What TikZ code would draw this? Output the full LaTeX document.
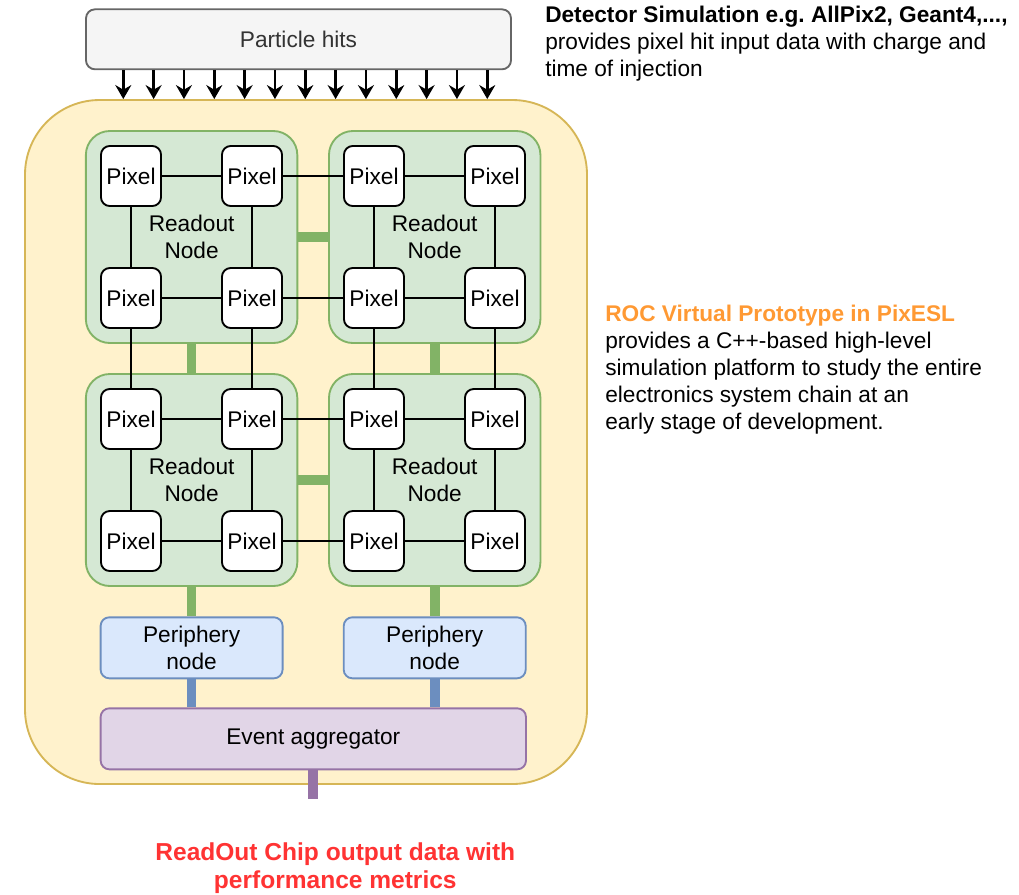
\documentclass[tikz,border=0pt]{standalone}
\usepackage{fontspec}
\setmainfont{Liberation Sans}
\usetikzlibrary{arrows.meta}
\frenchspacing

\definecolor{chipfill}{HTML}{FFF2CC}
\definecolor{chipline}{HTML}{D6B656}
\definecolor{rofill}{HTML}{D5E8D4}
\definecolor{roline}{HTML}{82B366}
\definecolor{perfill}{HTML}{DAE8FC}
\definecolor{perline}{HTML}{6C8EBF}
\definecolor{aggfill}{HTML}{E1D5E7}
\definecolor{aggline}{HTML}{9673A6}
\definecolor{hitfill}{HTML}{F5F5F5}
\definecolor{hitline}{HTML}{666666}
\definecolor{hittext}{HTML}{333333}
\definecolor{rocorange}{HTML}{FF9933}
\definecolor{outred}{HTML}{FF3333}

\begin{document}
\begin{tikzpicture}[x=0.75pt, y=-0.75pt,
  txt/.style={font=\fontsize{17}{20.25}\selectfont},
  box/.style={txt, draw, line width=1.4pt, inner sep=0pt, align=center},
  chipbox/.style={box, draw=chipline, fill=chipfill, rounded corners=56pt,
    minimum width=421.5pt, minimum height=513pt},
  hitbox/.style={box, draw=hitline, fill=hitfill, text=hittext, rounded corners=6.75pt,
    minimum width=318.75pt, minimum height=45pt},
  readout/.style={box, draw=roline, fill=rofill, rounded corners=18pt,
    minimum width=158.6pt, minimum height=159pt},
  pixel/.style={box, draw=black, fill=white, rounded corners=6.5pt, minimum size=45pt},
  periph/.style={box, draw=perline, fill=perfill, rounded corners=6.5pt,
    minimum width=136.5pt, minimum height=45.75pt},
  aggbox/.style={box, draw=aggline, fill=aggfill, rounded corners=6.5pt,
    minimum width=319pt, minimum height=45.75pt},
  wire/.style={draw=black, line width=1.3pt},
  greenbar/.style={draw=roline, line width=7.3pt},
  bluebar/.style={draw=perline, line width=7.3pt},
  purplebar/.style={draw=aggline, line width=7.3pt},
  hitarrow/.style={line width=1.9pt, -{Stealth[length=10.5pt, width=12pt, inset=3.5pt]}},
  note/.style={txt, inner sep=0pt, align=left, anchor=base west}
]
\useasboundingbox (0,0) rectangle (1019,894);

% readout chip frame and incoming hits
\node[chipbox] (chip) at (306,442) {};
\node[hitbox] (hits) at (298.5,39.3) {Particle hits};

\foreach \i in {0,...,12} {
  \coordinate (a\i) at (123.3+30.33*\i, 0);
  \draw[hitarrow] (hits.south -| a\i) -- (chip.north -| a\i);
}

% readout nodes (2x2)
\node[readout] (roTL) at (191.6,237) {Readout\\Node};
\node[readout] (roTR) at (434.7,237) {Readout\\Node};
\node[readout] (roBL) at (191.6,480) {Readout\\Node};
\node[readout] (roBR) at (434.7,480) {Readout\\Node};

% links between readout nodes
\draw[greenbar] (roTL.east) -- (roTR.west);
\draw[greenbar] (roBL.east) -- (roBR.west);
\draw[greenbar] (roTL.south) -- (roBL.north);
\draw[greenbar] (roTR.south) -- (roBR.north);

% pixel matrix
\foreach \y [count=\r] in {176,298,419,541}
  \foreach \x [count=\c] in {131,252,374,495}
    \node[pixel] (p\r\c) at (\x,\y) {Pixel};

% row wires and column wires between neighbouring pixels
\foreach \r in {1,2,3,4}
  \foreach \c/\n in {1/2,2/3,3/4}
    \draw[wire] (p\r\c.east) -- (p\r\n.west);
\foreach \c in {1,2,3,4}
  \foreach \r/\n in {1/2,2/3,3/4}
    \draw[wire] (p\r\c.south) -- (p\n\c.north);

% periphery and event aggregation
\node[periph] (perL) at (191.6,647.8) {Periphery\\node};
\node[periph] (perR) at (434.7,647.8) {Periphery\\node};
\node[aggbox] (agg) at (313.3,738.8) {Event aggregator};

\draw[greenbar] (roBL.south) -- (perL.north);
\draw[greenbar] (roBR.south) -- (perR.north);
\draw[bluebar] (perL.south) -- (perL.south |- agg.north);
\draw[bluebar] (perR.south) -- (perR.south |- agg.north);

\coordinate (outend) at (313.3,799);
\draw[purplebar] (agg.south) -- (outend);

% annotations (anchored at the baseline of their last line)
\node[note] (det) at (545,76.3)
  {\textbf{Detector Simulation e.g. AllPix2, Geant4,...,}\\
   provides pixel hit input data with charge and\\
   time of injection};

\node[note] (roc) at (605,429.5)
  {\textcolor{rocorange}{\textbf{ROC Virtual Prototype in PixESL}}\\
   provides a C++-based high-level\\
   simulation platform to study the entire\\
   electronics system chain at an\\
   early stage of development.};

\node[inner sep=0pt, align=center, anchor=base, text=outred,
  font=\bfseries\fontsize{18.4}{20.8}\selectfont] (outtext) at (335.3,888.4)
  {ReadOut Chip output data with\\performance metrics};
\end{tikzpicture}
\end{document}
